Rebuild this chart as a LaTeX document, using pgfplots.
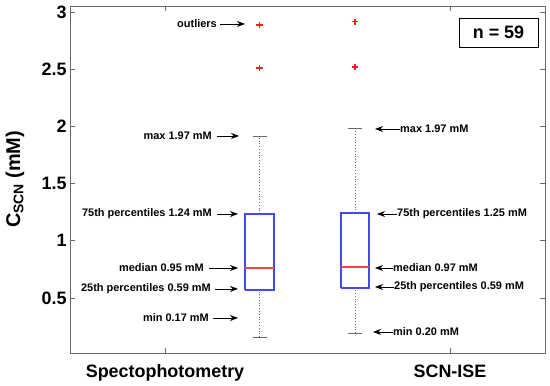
\documentclass[border=0pt]{standalone}
\usepackage{fontspec}
\setmainfont{Liberation Sans}
\usepackage{pgfplots}
\pgfplotsset{compat=1.18}
\usetikzlibrary{arrows.meta}
\definecolor{boxblue}{RGB}{70,70,245}
\definecolor{medred}{RGB}{245,70,70}
\definecolor{axgray}{RGB}{105,105,105}
\definecolor{outred}{RGB}{245,30,30}
\newcommand\annfont{\fontsize{11}{12}\selectfont\bfseries}
\begin{document}
\begin{tikzpicture}[arr/.style={-{Stealth[length=8bp,width=6bp]}, line width=0.8bp, black}]
\begin{axis}[
  scale only axis, width=475bp, height=347bp,
  xmin=70, xmax=545, ymin=0.019, ymax=3.052,
  xtick={165,450}, xticklabels={Spectophotometry,SCN-ISE},
  ytick={0.5,1,1.5,2,2.5,3},
  tick align=inside, major tick length=5bp,
  axis line style={axgray, line width=0.8bp},
  tick style={axgray, line width=0.6bp},
  ticklabel style={font=\fontsize{18}{18}\selectfont\bfseries},
  xticklabel style={yshift=-8bp},
  /pgf/number format/assume math mode=true,
  ylabel={C\raisebox{-0.3ex}{\fontsize{14}{14}\selectfont SCN} (mM)},
  ylabel style={font=\fontsize{20}{20}\selectfont\bfseries, at={(axis description cs:-0.1158,0.5)}, anchor=center},
  clip=false,
]
% ---- Spectophotometry: box (LQ 0.570, median 0.762, UQ 1.234), whiskers 0.159 / 1.916
\addplot[axgray, dotted, line width=0.8bp, no marks] coordinates {(259.5,0.159) (259.5,0.570)};
\addplot[axgray, dotted, line width=0.8bp, no marks] coordinates {(259.5,1.234) (259.5,1.916)};
\addplot[axgray, line width=0.8bp, no marks] coordinates {(253,0.159) (267,0.159)};
\addplot[axgray, line width=0.8bp, no marks] coordinates {(253,1.916) (267,1.916)};
\addplot[boxblue, line width=1.3bp, no marks] coordinates {(245,0.570) (274,0.570) (274,1.234) (245,1.234) (245,0.570)};
\addplot[medred, line width=1.3bp, no marks] coordinates {(245,0.762) (274,0.762)};
% ---- SCN-ISE: box (LQ 0.587, median 0.771, UQ 1.243), whiskers 0.194 / 1.986
\addplot[axgray, dotted, line width=0.8bp, no marks] coordinates {(355,0.194) (355,0.587)};
\addplot[axgray, dotted, line width=0.8bp, no marks] coordinates {(355,1.243) (355,1.986)};
\addplot[axgray, line width=0.8bp, no marks] coordinates {(348,0.194) (362,0.194)};
\addplot[axgray, line width=0.8bp, no marks] coordinates {(348,1.986) (362,1.986)};
\addplot[boxblue, line width=1.3bp, no marks] coordinates {(341,0.587) (369,0.587) (369,1.243) (341,1.243) (341,0.587)};
\addplot[medred, line width=1.3bp, no marks] coordinates {(341,0.771) (369,0.771)};
% ---- outliers
\addplot[color=outred, only marks, mark=+, mark size=3.3bp,
  mark options={solid, draw=outred, line width=1.1bp}]
  coordinates {(259.5,2.886) (259.5,2.510) (355,2.913) (355,2.519)};

% left annotations
\node[anchor=east, inner sep=0, font=\annfont, text=black] at (axis cs:217,2.895) {outliers};
\draw[arr] (axis cs:220,2.895) -- (axis cs:245,2.895);
\node[anchor=east, inner sep=0, font=\annfont, text=black] at (axis cs:212,1.916) {max 1.97 mM};
\draw[arr] (axis cs:217,1.916) -- (axis cs:239,1.916);
\node[anchor=east, inner sep=0, font=\annfont, text=black] at (axis cs:212,1.234) {75th percentiles 1.24 mM};
\draw[arr] (axis cs:217,1.234) -- (axis cs:238,1.234);
\node[anchor=east, inner sep=0, font=\annfont, text=black] at (axis cs:204,0.762) {median 0.95 mM};
\draw[arr] (axis cs:209,0.762) -- (axis cs:238,0.762);
\node[anchor=east, inner sep=0, font=\annfont, text=black] at (axis cs:211,0.579) {25th percentiles 0.59 mM};
\draw[arr] (axis cs:215,0.579) -- (axis cs:238,0.579);
\node[anchor=east, inner sep=0, font=\annfont, text=black] at (axis cs:209,0.325) {min 0.17 mM};
\draw[arr] (axis cs:213,0.325) -- (axis cs:238,0.325);

% right annotations
\draw[arr] (axis cs:400,1.977) -- (axis cs:375,1.977);
\node[anchor=west, inner sep=0, font=\annfont, text=black] at (axis cs:400,1.977) {max 1.97 mM};
\draw[arr] (axis cs:397,1.234) -- (axis cs:377,1.234);
\node[anchor=west, inner sep=0, font=\annfont, text=black] at (axis cs:397,1.234) {75th percentiles 1.25 mM};
\draw[arr] (axis cs:393,0.762) -- (axis cs:375,0.762);
\node[anchor=west, inner sep=0, font=\annfont, text=black] at (axis cs:393,0.762) {median 0.97 mM};
\draw[arr] (axis cs:394,0.596) -- (axis cs:375,0.596);
\node[anchor=west, inner sep=0, font=\annfont, text=black] at (axis cs:394,0.596) {25th percentiles 0.59 mM};
\draw[arr] (axis cs:393,0.203) -- (axis cs:373,0.203);
\node[anchor=west, inner sep=0, font=\annfont, text=black] at (axis cs:393,0.203) {min 0.20 mM};

% n box
\node[draw=black, line width=0.8bp, minimum width=79bp, minimum height=29bp, inner sep=0,
  font=\fontsize{18}{18}\selectfont\bfseries, text=black] at (axis cs:498.5,2.821) {n = 59};

\coordinate (bl) at (rel axis cs:0,0);
\coordinate (tr) at (rel axis cs:1,1);
\end{axis}
\pgfresetboundingbox
\path ([shift={(-70bp,-33bp)}]bl) rectangle ([shift={(5bp,6bp)}]tr);
\end{tikzpicture}
\end{document}
